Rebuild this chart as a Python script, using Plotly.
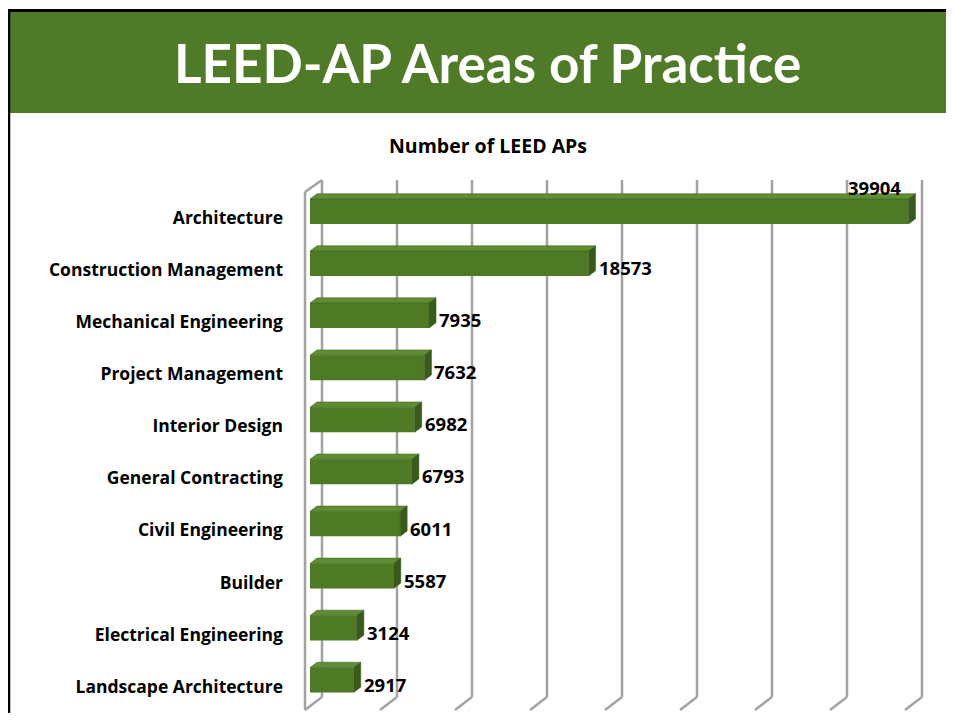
import plotly.graph_objects as go

# data
categories = ["Architecture", "Construction Management", "Mechanical Engineering",
              "Project Management", "Interior Design", "General Contracting",
              "Civil Engineering", "Builder", "Electrical Engineering",
              "Landscape Architecture"]
values = [39904, 18573, 7935, 7632, 6982, 6793, 6011, 5587, 3124, 2917]
tick_steps = [0, 5000, 10000, 15000, 20000, 25000, 30000, 35000, 40000]

# page puts the figure 8px in from the corner, so work in screen pixels
OFF = 8
FW, FH = 954 - OFF, 721 - 2 * OFF
L, R, T, B = 290, 945, 170, 712          # plot area in screen pixels
UX = 5000 / 75                            # data units per pixel (x)
UY = 1 / 52.06                            # category units per pixel (y)
X_RANGE = [(L - 310) * UX, (R - 310) * UX]
Y_RANGE = [(B - 211.5) * UY, (T - 211.5) * UY]

GREEN = "#4f7a28"
BAR_FRONT = "#4e7a26"
BAR_TOP = "#5f8d33"
BAR_SIDE = "#395a1b"
GRID = "#a3a3a3"
FONT = "Open Sans"


def px(x):
    return (x - L) / (R - L)


def py(y):
    return (B - y) / (B - T)


fig = go.Figure()

# front faces
bar_h = 25 * UY
fig.add_trace(go.Bar(
    x=values, y=list(range(len(values))), orientation="h", width=bar_h,
    marker=dict(color=BAR_FRONT, line=dict(width=0)), hoverinfo="x+y",
))

# top and side faces (3d look)
dx, dy = 7 * UX, 5.3 * UY
top_x, top_y, side_x, side_y = [], [], [], []
for i, v in enumerate(values):
    y0 = i - bar_h / 2
    y1 = i + bar_h / 2
    top_x += [0, v, v + dx, dx, 0, None]
    top_y += [y0, y0, y0 - dy, y0 - dy, y0, None]
    side_x += [v, v + dx, v + dx, v, v, None]
    side_y += [y0, y0 - dy, y1 - dy, y1, y0, None]
fig.add_trace(go.Scatter(x=top_x, y=top_y, fill="toself", fillcolor=BAR_TOP,
                         mode="lines", line=dict(width=0.5, color=BAR_SIDE),
                         hoverinfo="skip"))
fig.add_trace(go.Scatter(x=side_x, y=side_y, fill="toself", fillcolor=BAR_SIDE,
                         mode="lines", line=dict(width=0.5, color=BAR_SIDE),
                         hoverinfo="skip"))

# back wall gridlines with floor slant
back = 12 * UX
front = -5 * UX
y_top_back = (180 - 211.5) * UY
y_top_front = (192 - 211.5) * UY
y_bot_back = (697 - 211.5) * UY
y_bot_front = (710 - 211.5) * UY
shapes = []
for t in tick_steps:
    shapes.append(dict(type="line", xref="x", yref="y", layer="below",
                       x0=t + back, x1=t + back, y0=y_top_back, y1=y_bot_back,
                       line=dict(color=GRID, width=2.5)))
    shapes.append(dict(type="line", xref="x", yref="y", layer="below",
                       x0=t + back, x1=t + front, y0=y_bot_back, y1=y_bot_front,
                       line=dict(color=GRID, width=2.5)))
# left wall
shapes.append(dict(type="line", xref="x", yref="y", layer="below",
                   x0=front, x1=front, y0=y_top_front, y1=y_bot_front,
                   line=dict(color=GRID, width=2.5)))
shapes.append(dict(type="line", xref="x", yref="y", layer="below",
                   x0=front, x1=back, y0=y_top_front, y1=y_top_back,
                   line=dict(color=GRID, width=2.5)))

# title band and frame
shapes.append(dict(type="rect", xref="paper", yref="paper",
                   x0=px(9), x1=px(960), y0=py(113), y1=py(11),
                   fillcolor=GREEN, line=dict(width=0), layer="below"))
shapes.append(dict(type="line", xref="paper", yref="paper",
                   x0=px(8), x1=px(960), y0=py(10.5), y1=py(10.5),
                   line=dict(color="black", width=3)))
shapes.append(dict(type="line", xref="paper", yref="paper",
                   x0=px(9), x1=px(9), y0=py(9), y1=py(760),
                   line=dict(color="black", width=2.5)))

annotations = []
vmax = max(values)
for i, v in enumerate(values):
    if v == vmax:
        annotations.append(dict(x=v - 6 * UX, y=i - 0.47, xref="x", yref="y",
                                text=str(v), showarrow=False, xanchor="right",
                                yanchor="middle",
                                font=dict(size=18.5, color="black", family=FONT, weight="bold")))
    else:
        annotations.append(dict(x=v + dx + 1 * UX, y=i + 0.08, xref="x", yref="y",
                                text=str(v), showarrow=False, xanchor="left",
                                yanchor="middle",
                                font=dict(size=18.5, color="black", family=FONT, weight="bold")))

annotations.append(dict(x=px(488), y=py(145), xref="paper", yref="paper",
                        text="Number of LEED APs", showarrow=False,
                        xanchor="center", yanchor="middle",
                        font=dict(size=19.5, color="black", family=FONT, weight="bold")))
annotations.append(dict(x=px(487), y=py(62), xref="paper", yref="paper",
                        text="LEED-AP Areas of Practice", showarrow=False,
                        xanchor="center", yanchor="middle",
                        font=dict(size=53, color="white", family="Lato", weight="bold")))

fig.update_layout(
    width=FW, height=FH,
    margin=dict(l=L - OFF, r=FW - (R - OFF), t=T - OFF, b=FH - (B - OFF), pad=0),
    paper_bgcolor="white", plot_bgcolor="white",
    showlegend=False,
    shapes=shapes, annotations=annotations,
    xaxis=dict(range=X_RANGE, showgrid=False, zeroline=False,
               showticklabels=False, showline=False),
    yaxis=dict(range=Y_RANGE, showgrid=False, zeroline=False, showline=False,
               tickmode="array",
               tickvals=[i + 0.125 for i in range(len(categories))],
               ticktext=categories, ticks="", ticklabelstandoff=6,
               tickfont=dict(size=17.5, color="black", family=FONT, weight="bold")),
)

fig.write_html("out.html")
